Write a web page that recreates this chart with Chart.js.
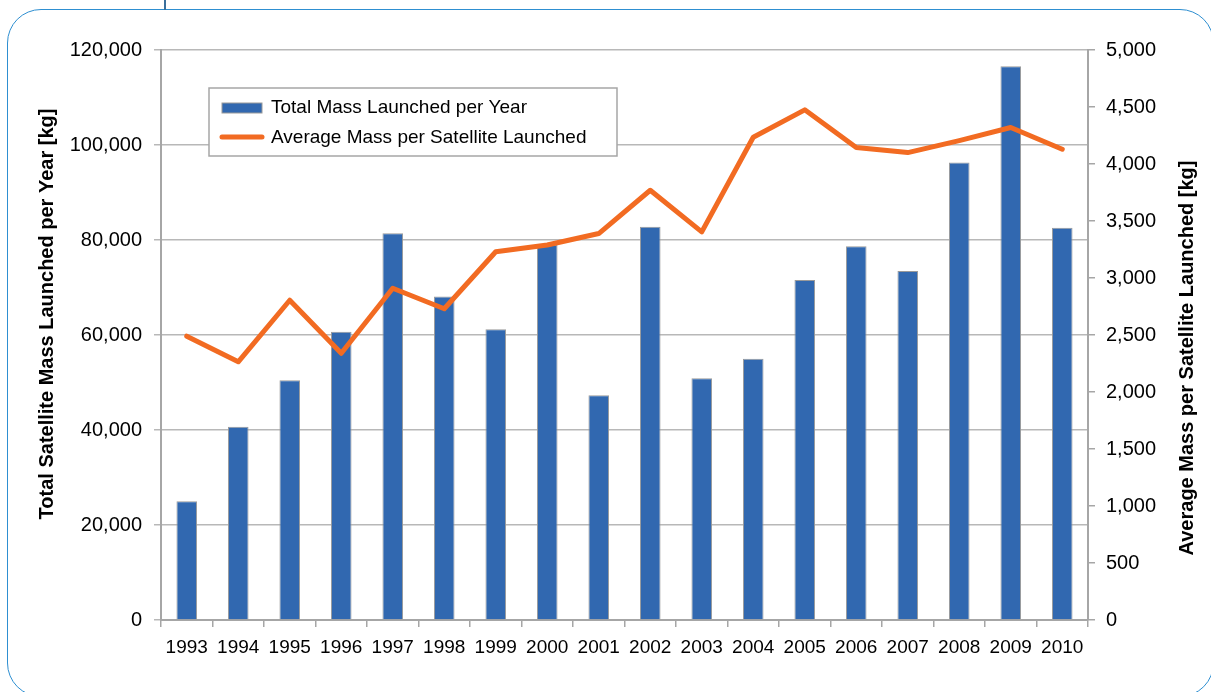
<!DOCTYPE html>
<html><head><meta charset="utf-8">
<script src="https://cdn.jsdelivr.net/npm/chart.js@4.4.1/dist/chart.umd.min.js"></script>
<style>
html,body{margin:0;padding:0;background:#fff;overflow:hidden}
#wrap{position:relative;width:1211px;height:692px}
#frame{position:absolute;left:7px;top:9px;width:1207px;height:688px;border:1.5px solid #2E8FD1;border-radius:34px;box-sizing:border-box}
#tab{position:absolute;left:164px;top:0;width:1.5px;height:10px;background:#3a6f9c}
canvas{position:absolute;left:0;top:0}
</style></head><body>
<div id="wrap"><div id="frame"></div><div id="tab"></div><canvas id="c" width="1211" height="692"></canvas></div>
<script>
const years = ['1993','1994','1995','1996','1997','1998','1999','2000','2001','2002','2003','2004','2005','2006','2007','2008','2009','2010'];
const totalMass = [25000, 40700, 50500, 60700, 81400, 68100, 61200, 79000, 47300, 82800, 50900, 55000, 71600, 78700, 73500, 96300, 116600, 82600];
const avgMass = [2490, 2265, 2805, 2340, 2910, 2730, 3230, 3290, 3390, 3770, 3405, 4235, 4475, 4145, 4100, 4205, 4320, 4130];
const barLabel = 'Total Mass Launched per Year';
const lineLabel = 'Average Mass per Satellite Launched';
const leftTitle = 'Total Satellite Mass Launched per Year [kg]';
const rightTitle = 'Average Mass per Satellite Launched [kg]';

const FONT = '"Liberation Sans", Arial, sans-serif';
const BAR_COLOR = '#3168B0';
const LINE_COLOR = '#F26B22';
const AXIS_COLOR = '#a6a6a6';

const decor = {
  id: 'decor',
  afterDatasetsDraw(chart) {
    const ctx = chart.ctx;
    ctx.save();
    // legend box
    ctx.fillStyle = '#fff';
    ctx.fillRect(209, 88, 408, 68);
    ctx.strokeStyle = AXIS_COLOR;
    ctx.lineWidth = 1.5;
    ctx.strokeRect(209, 88, 408, 68);
    ctx.fillStyle = BAR_COLOR;
    ctx.fillRect(222, 103, 40, 10);
    ctx.strokeStyle = '#9a9a9a';
    ctx.lineWidth = 1;
    ctx.strokeRect(222, 103, 40, 10);
    ctx.strokeStyle = LINE_COLOR;
    ctx.lineWidth = 5;
    ctx.lineCap = 'round';
    ctx.beginPath(); ctx.moveTo(222, 137); ctx.lineTo(262, 137); ctx.stroke();
    ctx.fillStyle = '#000';
    ctx.font = '19px ' + FONT;
    ctx.textBaseline = 'middle';
    ctx.textAlign = 'left';
    ctx.fillText(chart.data.datasets[0].label, 271, 108);
    ctx.fillText(chart.data.datasets[1].label, 271, 138);
    // axis titles
    ctx.font = 'bold 20px ' + FONT;
    ctx.textAlign = 'center';
    ctx.save();
    ctx.translate(47, 314); ctx.rotate(-Math.PI/2);
    ctx.fillText(leftTitle, 0, 0);
    ctx.restore();
    ctx.save();
    ctx.translate(1187, 358); ctx.rotate(-Math.PI/2);
    ctx.fillText(rightTitle, 0, 0);
    ctx.restore();
    ctx.restore();
  }
};

new Chart(document.getElementById('c'), {
  data: {
    labels: years,
    datasets: [
      { type: 'bar', label: barLabel, data: totalMass, yAxisID: 'y', order: 1,
        backgroundColor: BAR_COLOR, borderColor: '#9a9a9a', borderWidth: 1,
        barPercentage: 0.4, categoryPercentage: 1 },
      { type: 'line', label: lineLabel, data: avgMass, yAxisID: 'y1', order: 0,
        borderColor: LINE_COLOR, borderWidth: 5, pointRadius: 0, tension: 0,
        borderJoinStyle: 'round', borderCapStyle: 'round', fill: false }
    ]
  },
  options: {
    responsive: false,
    devicePixelRatio: 1,
    animation: false,
    layout: { padding: { top: 50, left: 0, right: 0, bottom: 0 } },
    plugins: { legend: { display: false }, tooltip: { enabled: false } },
    scales: {
      x: {
        grid: { display: true, drawOnChartArea: false, tickLength: 7, color: AXIS_COLOR, lineWidth: 1.5, offset: true },
        border: { color: AXIS_COLOR, width: 2 },
        ticks: { color: '#000', font: { family: FONT, size: 19 }, padding: 9, maxRotation: 0, autoSkip: false },
        afterFit(s) { s.height = 72; }
      },
      y: {
        position: 'left', min: 0, max: 120000,
        ticks: { stepSize: 20000, padding: 12, color: '#000', font: { family: FONT, size: 20 },
                 callback: v => v.toLocaleString('en-US') },
        grid: { color: '#b8b8b8', lineWidth: 1.5, tickLength: 7 },
        border: { color: AXIS_COLOR, width: 2 },
        afterFit(s) { s.width = 161; }
      },
      y1: {
        position: 'right', min: 0, max: 5000,
        ticks: { stepSize: 500, padding: 11, color: '#000', font: { family: FONT, size: 20 },
                 callback: v => v.toLocaleString('en-US') },
        grid: { drawOnChartArea: false, color: AXIS_COLOR, lineWidth: 1.5, tickLength: 7 },
        border: { color: AXIS_COLOR, width: 2 },
        afterFit(s) { s.width = 123; }
      }
    }
  },
  plugins: [decor]
});
</script>
</body></html>
